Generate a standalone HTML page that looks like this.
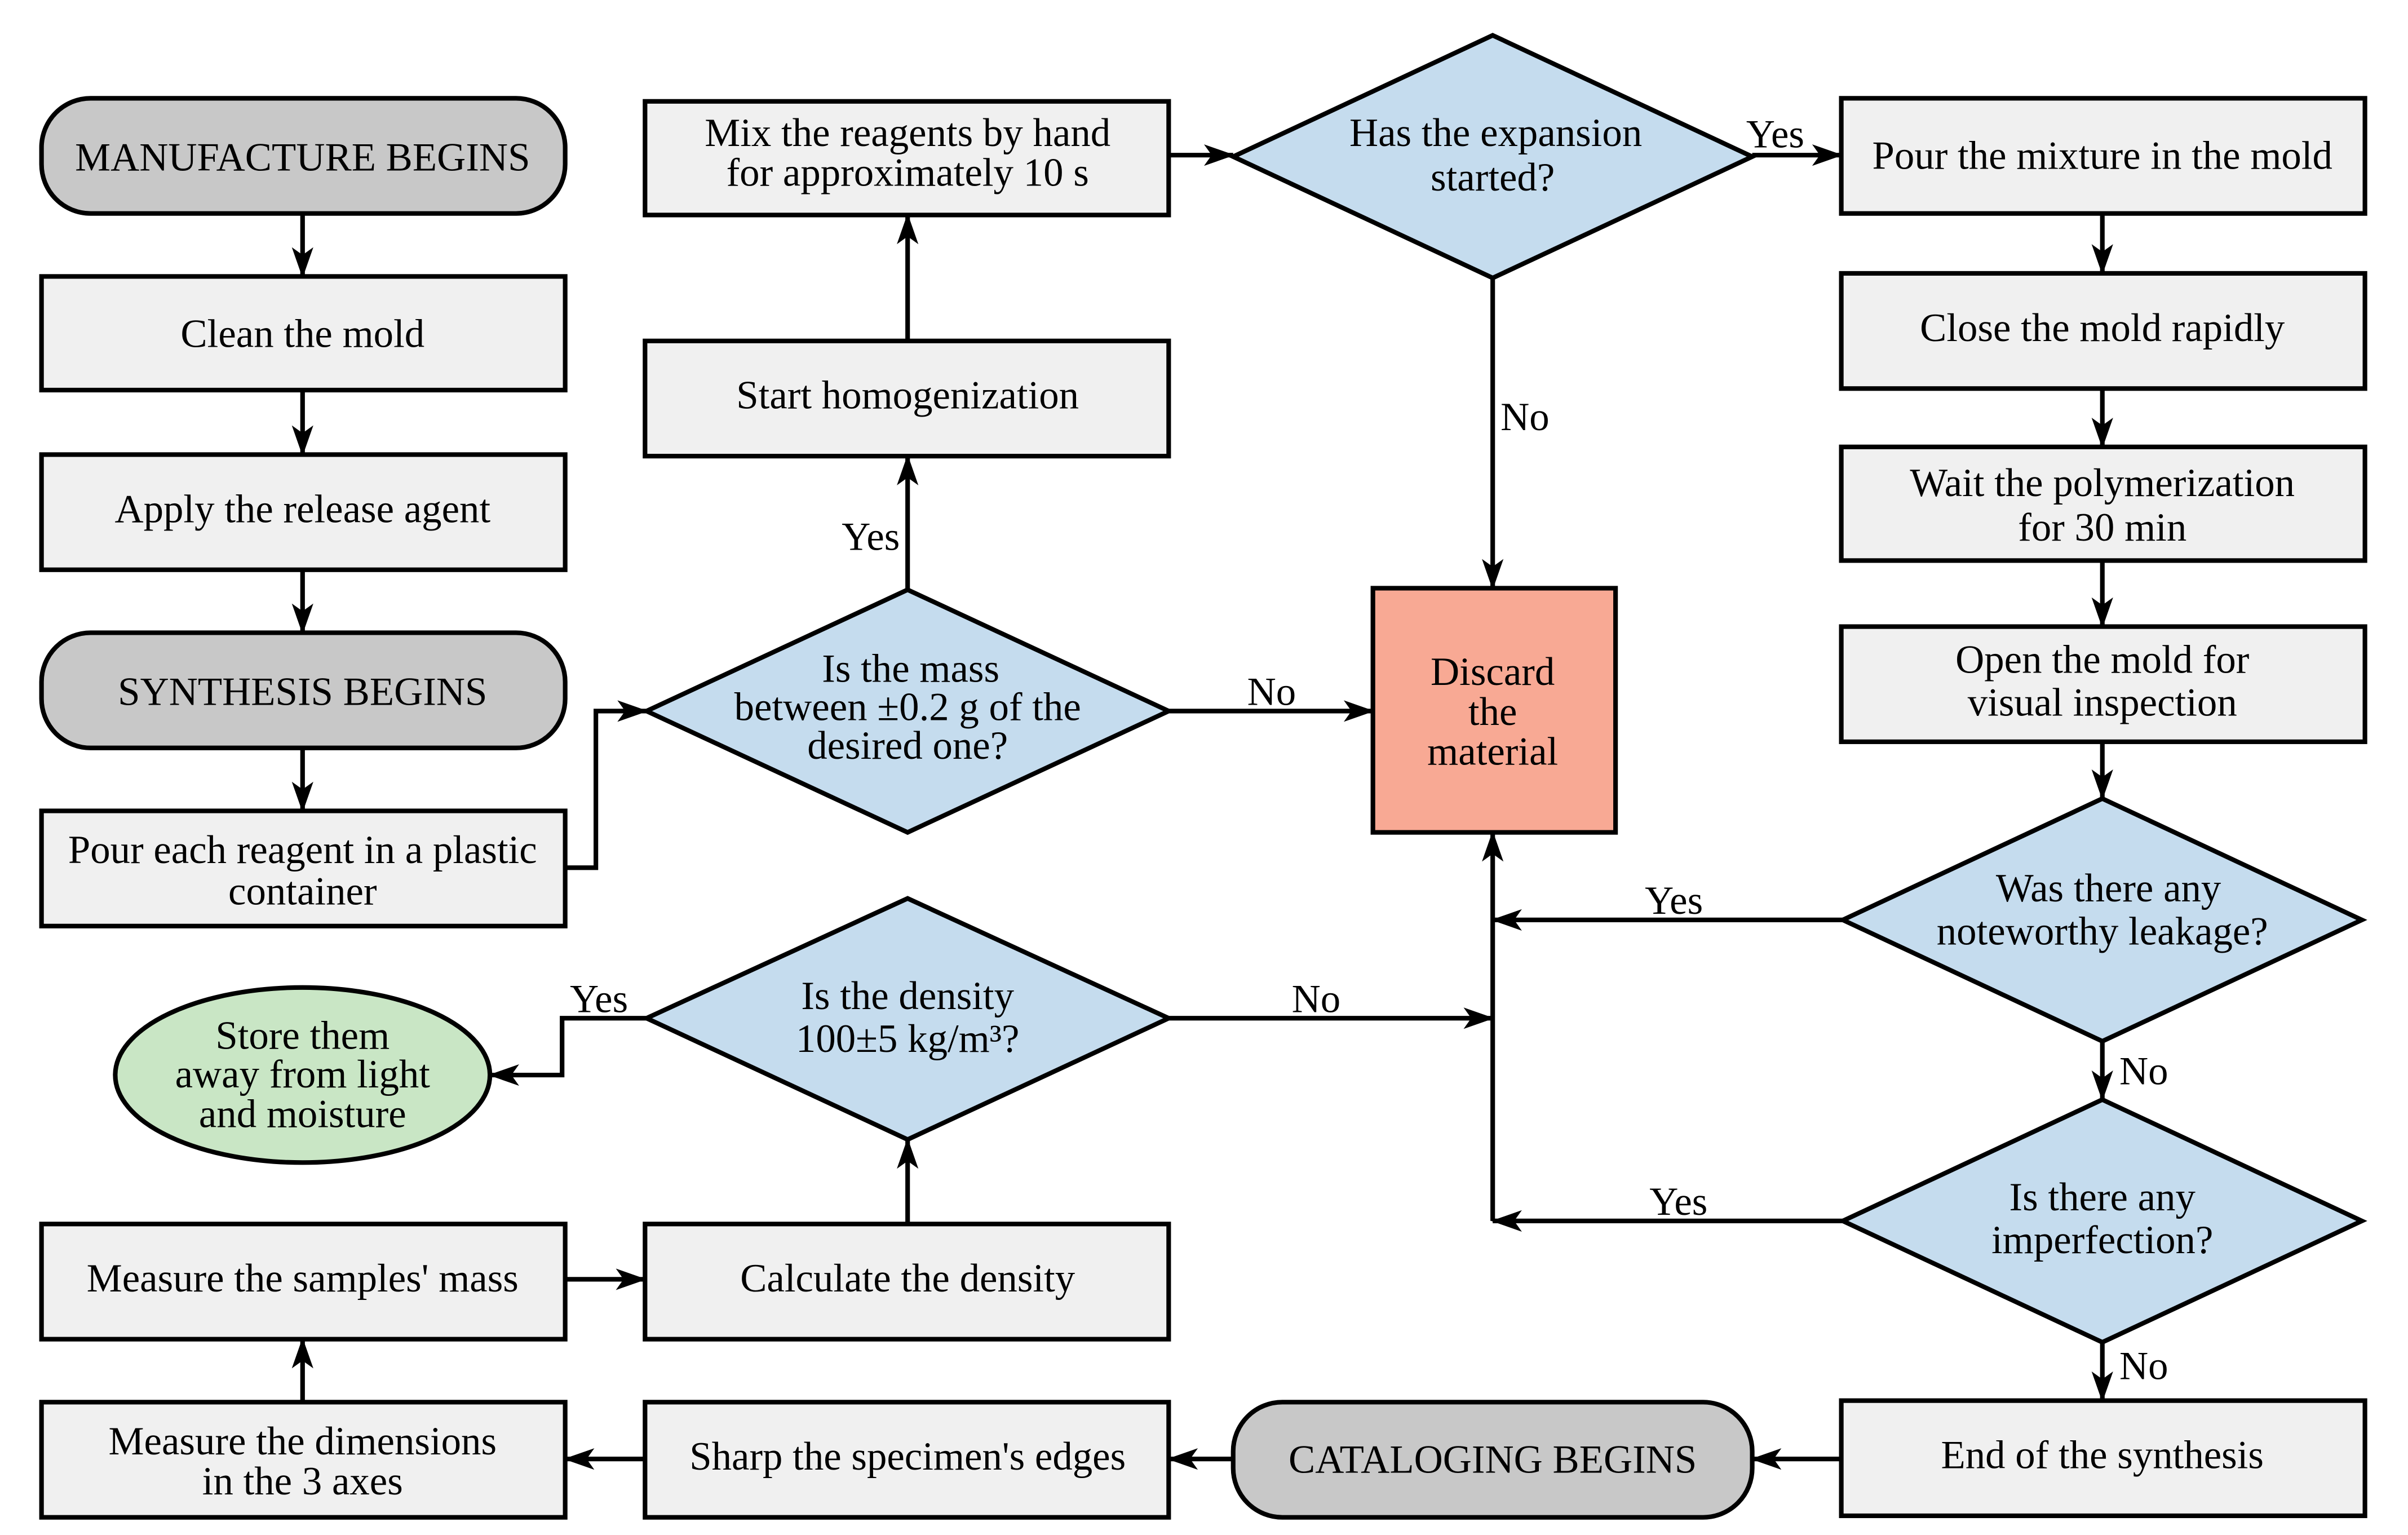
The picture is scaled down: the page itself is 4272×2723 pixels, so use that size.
<!DOCTYPE html>
<html><head><meta charset="utf-8"><style>
html,body{margin:0;padding:0;background:#fff;}
svg{display:block;}
text{font-family:"Liberation Serif",serif;font-size:26px;fill:#000;text-anchor:middle;}
.b{fill:#f0f0f0;stroke:#000;stroke-width:3;}
.t{fill:#c8c8c8;stroke:#000;stroke-width:3;}
.d{fill:#c5dcee;stroke:#000;stroke-width:3;}
.l{fill:none;stroke:#000;stroke-width:3;marker-end:url(#a);}
</style></head><body>
<svg width="4272" height="2723" viewBox="0 0 1568 999.5" xmlns="http://www.w3.org/2000/svg">
<defs><marker id="a" viewBox="0 0 20 14" refX="19" refY="7" markerWidth="20" markerHeight="14" markerUnits="userSpaceOnUse" orient="auto"><path d="M0,0 L20,7 L0,14 L5,7 Z" fill="#000"/></marker></defs>

<rect class="t" x="27" y="64" width="341" height="75" rx="32"/><text x="197" y="111">MANUFACTURE BEGINS</text>
<rect class="b" x="27" y="180" width="341" height="74"/><text x="197" y="226">Clean the mold</text>
<rect class="b" x="27" y="296" width="341" height="75"/><text x="197" y="340">Apply the release agent</text>
<rect class="t" x="27" y="412" width="341" height="75" rx="32"/><text x="197" y="459">SYNTHESIS BEGINS</text>
<rect class="b" x="27" y="528" width="341" height="75"/><text x="197" y="562">Pour each reagent in a plastic</text><text x="197" y="589">container</text>
<ellipse cx="197" cy="700" rx="122" ry="57" fill="#c9e6c5" stroke="#000" stroke-width="3"/>
<text x="197" y="683">Store them</text><text x="197" y="708">away from light</text><text x="197" y="734">and moisture</text>
<rect class="b" x="27" y="797" width="341" height="75"/><text x="197" y="841">Measure the samples' mass</text>
<rect class="b" x="27" y="913" width="341" height="75"/><text x="197" y="947">Measure the dimensions</text><text x="197" y="973">in the 3 axes</text>

<rect class="b" x="420" y="66" width="341" height="74"/><text x="591" y="95">Mix the reagents by hand</text><text x="591" y="121">for approximately 10 s</text>
<rect class="b" x="420" y="222" width="341" height="75"/><text x="591" y="266">Start homogenization</text>
<polygon class="d" points="591,384 761,463 591,542 421,463"/>
<text x="593" y="444">Is the mass</text><text x="591" y="469">between ±0.2 g of the</text><text x="591" y="494">desired one?</text>
<polygon class="d" points="591,585 761,663 591,742 421,663"/>
<text x="591" y="657">Is the density</text><text x="591" y="685">100±5 kg/m³?</text>
<rect class="b" x="420" y="797" width="341" height="75"/><text x="591" y="841">Calculate the density</text>
<rect class="b" x="420" y="913" width="341" height="75"/><text x="591" y="957">Sharp the specimen's edges</text>

<polygon class="d" points="972,23 1141,102 972,181 803,102"/>
<text x="974" y="95">Has the expansion</text><text x="972" y="124">started?</text>
<rect x="894" y="383" width="158" height="159" fill="#f8a994" stroke="#000" stroke-width="3"/>
<text x="972" y="446">Discard</text><text x="972" y="472">the</text><text x="972" y="498">material</text>
<rect class="t" x="803" y="913" width="338" height="75" rx="32"/><text x="972" y="959">CATALOGING BEGINS</text>

<rect class="b" x="1199" y="64" width="341" height="75"/><text x="1369" y="110">Pour the mixture in the mold</text>
<rect class="b" x="1199" y="178" width="341" height="75"/><text x="1369" y="222">Close the mold rapidly</text>
<rect class="b" x="1199" y="291" width="341" height="74"/><text x="1369" y="323">Wait the polymerization</text><text x="1369" y="352">for 30 min</text>
<rect class="b" x="1199" y="408" width="341" height="75"/><text x="1369" y="438">Open the mold for</text><text x="1369" y="466">visual inspection</text>
<polygon class="d" points="1369,520 1538,599 1369,678 1200,599"/>
<text x="1373" y="587">Was there any</text><text x="1369" y="615">noteworthy leakage?</text>
<polygon class="d" points="1369,716 1538,795 1369,874 1200,795"/>
<text x="1369" y="788">Is there any</text><text x="1369" y="816">imperfection?</text>
<rect class="b" x="1199" y="912" width="341" height="75"/><text x="1369" y="956">End of the synthesis</text>

<path class="l" d="M197,139 V180"/><path class="l" d="M197,254 V296"/><path class="l" d="M197,371 V412"/><path class="l" d="M197,487 V528"/>
<path class="l" d="M368,565 H388 V463 H421"/>
<path class="l" d="M591,384 V297"/><text x="567" y="358">Yes</text>
<path class="l" d="M591,222 V140"/>
<path class="l" d="M761,101 H803"/>
<path class="l" d="M1141,101 H1199"/><text x="1156" y="96">Yes</text>
<path class="l" d="M972,181 V383"/><text x="993" y="280">No</text>
<path class="l" d="M761,463 H894"/><text x="828" y="459">No</text>
<path class="l" d="M1369,139 V178"/><path class="l" d="M1369,253 V291"/><path class="l" d="M1369,365 V408"/><path class="l" d="M1369,483 V520"/>
<path class="l" d="M1200,599 H972"/><text x="1090" y="595">Yes</text>
<path class="l" d="M1369,678 V716"/><text x="1396" y="706">No</text>
<path class="l" d="M1200,795 H972"/><text x="1093" y="791">Yes</text>
<path class="l" d="M972,795 V542"/>
<path class="l" d="M761,663 H972"/><text x="857" y="659">No</text>
<path class="l" d="M1369,874 V912"/><text x="1396" y="898">No</text>
<path class="l" d="M1199,950 H1141"/>
<path class="l" d="M803,950 H761"/>
<path class="l" d="M420,950 H368"/>
<path class="l" d="M197,913 V872"/>
<path class="l" d="M368,833 H420"/>
<path class="l" d="M591,797 V742"/>
<path class="l" d="M421,663 H366 V700 H319"/><text x="390" y="659">Yes</text>
</svg>
</body></html>
